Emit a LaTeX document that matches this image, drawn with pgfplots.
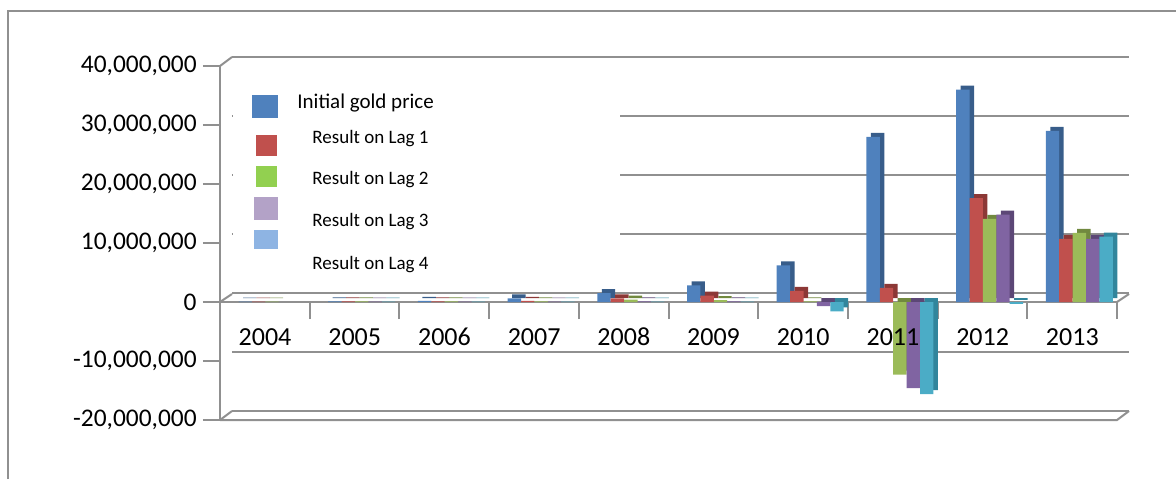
\documentclass[border=0pt]{standalone}
\usepackage{pgfplots}
\pgfplotsset{compat=1.18}
\usepackage{pgfplotstable}
\usepackage{fontspec}
\setmainfont{Carlito}

\definecolor{cBlue}{HTML}{4F81BD}
\definecolor{cRed}{HTML}{C0504D}
\definecolor{cGreen}{HTML}{9BBB59}
\definecolor{cPurple}{HTML}{8064A2}
\definecolor{cCyan}{HTML}{4BACC6}
\definecolor{dBlue}{HTML}{385D8A}
\definecolor{dRed}{HTML}{8C3836}
\definecolor{dGreen}{HTML}{71893F}
\definecolor{dPurple}{HTML}{5C4776}
\definecolor{dCyan}{HTML}{31859C}
\definecolor{lGreen}{HTML}{92D050}
\definecolor{lPurple}{HTML}{B3A2C7}
\definecolor{lBlue}{HTML}{8EB4E3}
\definecolor{gridc}{HTML}{909090}

% values in millions
\pgfplotstableread{
year init lagA lagB lagC lagD
0 0.05 0.05 0.05 nan nan
1 0.10 0.10 0.10 0.06 0.06
2 0.20 0.10 0.10 0.06 0.06
3 0.60 0.20 0.10 0.06 0.06
4 1.50 0.60 0.40 0.10 0.06
5 2.80 1.10 0.30 0.10 0.06
6 6.20 1.90 0.10 -0.70 -1.60
7 28.0 2.40 -12.3 -14.6 -15.6
8 36.0 17.6 14.1 14.8 -0.30
9 29.0 10.7 11.7 10.7 11.1
}\gold

\pgfplotsset{
  frame/.style={
    scale only axis,
    width=448.5pt, height=177pt,
    xmin=-0.58, xmax=9.42,
    ymin=-20, ymax=40,
    at={(0,0)}, anchor=south west,
  }
}

\begin{document}
\begin{tikzpicture}
\begin{axis}[
  frame,
  axis x line*=middle, axis y line*=left,
  axis line style={gridc, line width=1pt},
  ybar, bar width=6.7pt,
  xtick={0.42,1.42,2.42,3.42,4.42,5.42,6.42,7.42,8.42,9.42},
  xticklabels={},
  x tick style={gridc, line width=1pt},
  ytick={-20,-10,0,10,20,30,40},
  yticklabels={{-20,000,000},{-10,000,000},{0},{10,000,000},{20,000,000},{30,000,000},{40,000,000}},
  y tick label style={font=\fontsize{12.7}{12.7}\selectfont, inner sep=0pt, anchor=east, xshift=-3pt},
  y tick style={gridc, line width=1pt},
  major tick length=8.5pt,
  tick align=outside,
  ymajorgrids,
  major grid style={gridc, line width=1pt, shift={(6pt,4.5pt)}},
  clip=false,
]
\addplot[fill=dBlue, draw=none, bar shift=-13.4pt, shift={(2.25pt,2pt)}] table[x=year,y=init]{\gold};
\addplot[fill=dRed, draw=none, bar shift=-6.7pt, shift={(2.25pt,2pt)}] table[x=year,y=lagA]{\gold};
\addplot[fill=dGreen, draw=none, bar shift=0pt, shift={(2.25pt,2pt)}] table[x=year,y=lagB]{\gold};
\addplot[fill=dPurple, draw=none, bar shift=6.7pt, shift={(2.25pt,2pt)}] table[x=year,y=lagC]{\gold};
\addplot[fill=dCyan, draw=none, bar shift=13.4pt, shift={(2.25pt,2pt)}] table[x=year,y=lagD]{\gold};
\addplot[fill=cBlue, draw=none, bar shift=-13.4pt] table[x=year,y=init]{\gold};
\addplot[fill=cRed, draw=none, bar shift=-6.7pt] table[x=year,y=lagA]{\gold};
\addplot[fill=cGreen, draw=none, bar shift=0pt] table[x=year,y=lagB]{\gold};
\addplot[fill=cPurple, draw=none, bar shift=6.7pt] table[x=year,y=lagC]{\gold};
\addplot[fill=cCyan, draw=none, bar shift=13.4pt] table[x=year,y=lagD]{\gold};
\coordinate (SW) at (rel axis cs:0,0);
\end{axis}
% category labels drawn on top of the bars
\begin{axis}[
  frame,
  axis x line*=middle, axis y line=none,
  x axis line style={draw=none},
  xtick={0,1,2,3,4,5,6,7,8,9},
  xticklabels={2004,2005,2006,2007,2008,2009,2010,2011,2012,2013},
  x tick style={draw=none},
  x tick label style={font=\fontsize{13}{13}\selectfont, inner sep=0pt, anchor=base, xshift=-3.5pt, yshift=-21.5pt},
  ytick=\empty,
]
\end{axis}
% pixel coordinate frame: origin at image top-left, 1px = 0.5pt, y downwards
\coordinate (O) at ([shift={(-110pt,210pt)}]SW);
\begin{scope}[shift={(O)}, x=0.5pt, y=-0.5pt]
  % 3D frame edges
  \draw[gridc, line width=1pt] (220,66) -- (232,57);
  \draw[gridc, line width=1pt] (220,302) -- (232,294);
  \draw[gridc, line width=1pt] (1117,302) -- (1129,294);
  \draw[gridc, line width=1pt] (220,420) -- (1117,420) -- (1129,411);
  \draw[gridc, line width=1pt] (220,420) -- (232,411);
  % legend
  \fill[white] (233,62) rectangle (620,284);
  \fill[cBlue] (252,95) rectangle (278,118);
  \fill[cRed] (256,135) rectangle (277,156);
  \fill[lGreen] (256,166) rectangle (277,187);
  \fill[lPurple] (254,197) rectangle (278,220);
  \fill[lBlue] (254,230) rectangle (278,249);
  \node[anchor=base west, inner sep=0pt, font=\fontsize{10.5}{10.5}\selectfont] at (297,108) {Initial gold price};
  \node[anchor=base west, inner sep=0pt, font=\fontsize{9.5}{9.5}\selectfont] at (312,143) {Result on Lag 1};
  \node[anchor=base west, inner sep=0pt, font=\fontsize{9.5}{9.5}\selectfont] at (312,184) {Result on Lag 2};
  \node[anchor=base west, inner sep=0pt, font=\fontsize{9.5}{9.5}\selectfont] at (312,226) {Result on Lag 3};
  \node[anchor=base west, inner sep=0pt, font=\fontsize{9.5}{9.5}\selectfont] at (312,269) {Result on Lag 4};
  % outer frame
  \draw[gridc, line width=0.6pt] (8,479) -- (8,11) -- (1176,11);
\end{scope}
\pgfresetboundingbox
\path ([shift={(-110pt,-29.5pt)}]SW) rectangle ([shift={(478pt,210pt)}]SW);
\end{tikzpicture}
\end{document}
